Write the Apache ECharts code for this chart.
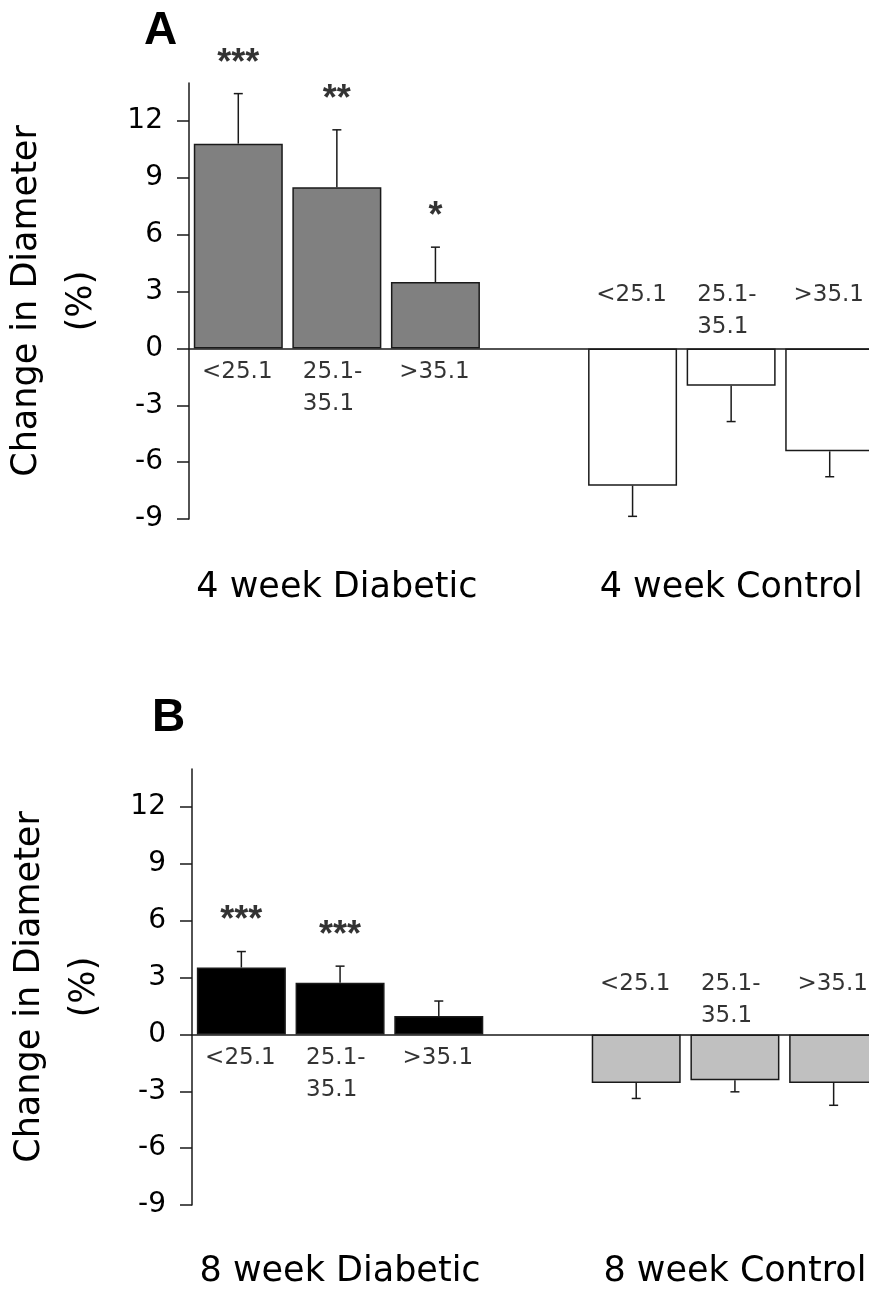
<!DOCTYPE html>
<html><head><meta charset="utf-8">
<script src="https://cdn.jsdelivr.net/npm/echarts@6/dist/echarts.min.js"></script>
<style>html,body{margin:0;padding:0;background:#fff}#c{width:869px;height:1291px}</style>
</head><body><div id="c"></div>
<script>
// ---- data ----
const categories = ['<25.1', '25.1-\n35.1', '>35.1'];
const groupNamesA = ['4 week Diabetic', '4 week Control'];
const groupNamesB = ['8 week Diabetic', '8 week Control'];
const yTickValues = [-9, -6, -3, 0, 3, 6, 9, 12];
const yTitle = 'Change in Diameter\n(%)';
const panelLetters = ['A', 'B'];

const a4Diabetic = [10.8, 8.5, 3.5];
const a4DiabeticErr = [2.64, 3.03, 1.84];
const a4Control = [-7.24, -1.97, -5.43];
const a4ControlErr = [1.62, 1.89, 1.34];
const starsA = ['***', '**', '*'];

const b8Diabetic = [3.53, 2.72, 0.97];
const b8DiabeticErr = [0.84, 0.88, 0.79];
const b8Control = [-2.56, -2.42, -2.56];
const b8ControlErr = [0.82, 0.61, 1.18];
const starsB = ['***', '***', ''];

// ---- build ----
const FONT = 'DejaVu Sans';
const INK = '#1a1a1a';
const TXT = '#000';
const slotKeys = ['D1', 'D2', 'D3', 'gap', 'C1', 'C2', 'C3'];

const grids = [
  { left: 189, top: 83, width: 690, height: 436, outerBoundsMode: 'none', containLabel: false },
  { left: 192, top: 769, width: 691, height: 436, outerBoundsMode: 'none', containLabel: false }
];

const xAxes = [], yAxes = [], series = [];

function buildPanel(p, diab, diabErr, ctrl, ctrlErr, stars, groups, diabColor, ctrlColor, diabLabelDist, ctrlLabelShift, groupMargin) {
  xAxes.push({
    type: 'category', gridIndex: p, data: slotKeys,
    axisLine: { onZero: true, lineStyle: { color: INK, width: 1.5 } },
    axisTick: { show: false }, axisLabel: { show: false }, splitLine: { show: false }
  });
  xAxes.push({
    type: 'category', gridIndex: p, data: slotKeys, position: 'bottom',
    axisLine: { show: false, onZero: false }, axisTick: { show: false },
    axisLabel: {
      interval: 0, margin: groupMargin, fontFamily: FONT, fontSize: 35, color: TXT,
      formatter: (v, i) => (i === 1 ? groups[0] : i === 5 ? groups[1] : '')
    }
  });
  yAxes.push({
    type: 'value', gridIndex: p, min: -9, max: 14,
    axisLine: { show: true, lineStyle: { color: INK, width: 1.5 } },
    axisTick: { show: true, inside: false, length: 12, customValues: yTickValues, lineStyle: { color: INK, width: 1.5 } },
    axisLabel: { customValues: yTickValues, margin: 26, fontFamily: FONT, fontSize: 28, color: TXT },
    splitLine: { show: false },
    name: yTitle, nameLocation: 'middle', nameRotate: 90, nameGap: 80,
    nameTextStyle: { fontFamily: FONT, fontSize: 35, color: TXT, lineHeight: 55, align: 'center' }
  });
  const xi = p * 2, yi = p;
  const barData = [], errData = [], labelData = [], starData = [];
  for (let i = 0; i < 3; i++) barData.push({ value: diab[i], itemStyle: { color: diabColor } });
  barData.push('-');
  for (let i = 0; i < 3; i++) barData.push({ value: ctrl[i], itemStyle: { color: ctrlColor } });
  for (let i = 0; i < 3; i++) {
    errData.push([i, diab[i], diabErr[i]]);
    errData.push([i + 4, ctrl[i], -ctrlErr[i]]);
    starData.push({ value: [i, diab[i] + diabErr[i]], name: stars[i] });
    const multi = categories[i].indexOf('\n') >= 0;
    labelData.push({ value: [i, 0], name: categories[i],
      label: { align: multi ? 'left' : 'center', offset: [multi ? -34 : -1, 0], distance: diabLabelDist } });
    labelData.push({ value: [i + 4, 0], name: categories[i],
      label: { align: multi ? 'left' : 'center', offset: [multi ? -34 : -1, ctrlLabelShift], distance: diabLabelDist } });
  }
  series.push({
    type: 'bar', xAxisIndex: xi, yAxisIndex: yi, data: barData, barWidth: 89,
    itemStyle: { borderColor: INK, borderWidth: 1.5 }, silent: true, animation: false
  });
  series.push({
    type: 'custom', xAxisIndex: xi, yAxisIndex: yi, data: errData, silent: true, animation: false, z: 3,
    renderItem: (params, api) => {
      const x = api.value(0), v = api.value(1), e = api.value(2);
      const p0 = api.coord([x, v]);
      const p1 = api.coord([x, v + e]);
      const st = { stroke: INK, lineWidth: 1.5 };
      return { type: 'group', children: [
        { type: 'line', shape: { x1: p0[0], y1: p0[1], x2: p1[0], y2: p1[1] }, style: st },
        { type: 'line', shape: { x1: p1[0] - 4.5, y1: p1[1], x2: p1[0] + 4.5, y2: p1[1] }, style: st }
      ] };
    }
  });
  series.push({
    type: 'scatter', xAxisIndex: xi, yAxisIndex: yi, data: labelData, symbolSize: 0, silent: true, animation: false,
    label: { show: true, position: 'bottom', formatter: (d) => d.name,
      fontFamily: FONT, fontSize: 23, lineHeight: 32, color: TXT }
  });
  series.push({
    type: 'scatter', xAxisIndex: xi, yAxisIndex: yi, data: starData, symbolSize: 0, silent: true, animation: false,
    label: { show: true, position: 'top', distance: 12, formatter: (d) => d.name,
      fontFamily: 'Liberation Sans', fontWeight: 'bold', fontSize: 36, color: TXT }
  });
}

buildPanel(0, a4Diabetic, a4DiabeticErr, a4Control, a4ControlErr, starsA, groupNamesA, '#808080', '#ffffff', 8, -77, 51);
buildPanel(1, b8Diabetic, b8DiabeticErr, b8Control, b8ControlErr, starsB, groupNamesB, '#000000', '#c0c0c0', 8, -74, 49);

const chart = echarts.init(document.getElementById('c'), null, { renderer: 'canvas' });
chart.setOption({
  backgroundColor: '#fff',
  animation: false,
  title: [
    { text: panelLetters[0], left: 139, top: 3, textStyle: { fontFamily: 'Liberation Sans', fontWeight: 'bold', fontSize: 46, color: '#000' } },
    { text: panelLetters[1], left: 147, top: 690, textStyle: { fontFamily: 'Liberation Sans', fontWeight: 'bold', fontSize: 46, color: '#000' } }
  ],
  grid: grids,
  xAxis: xAxes,
  yAxis: yAxes,
  series: series
});
</script></body></html>
